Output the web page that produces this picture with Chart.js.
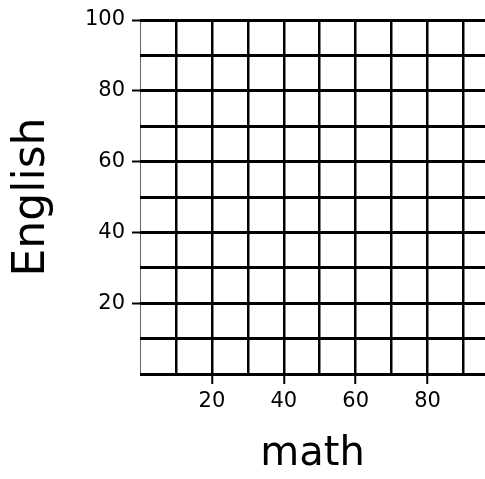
<!DOCTYPE html>
<html>
<head>
<meta charset="utf-8">
<script src="https://cdn.jsdelivr.net/npm/chart.js@4"></script>
<style>
  html, body { margin: 0; padding: 0; background: #fff; }
  #wrap { width: 485px; height: 479px; }
</style>
</head>
<body>
<div id="wrap"><canvas id="gridChart"></canvas></div>
<script>
// Datos (la hoja está vacía: no hay puntos)
const mathScores = [];
const englishScores = [];
const xRange = [0, 96];
const yRange = [0, 100];
const gridStep = 10;
const labelStep = 20;

const points = mathScores.map((m, i) => ({ x: m, y: englishScores[i] }));

const inkFont = "'DejaVu Sans', sans-serif";

// solo se rotulan los múltiplos de 20, pero la cuadrícula va de 10 en 10
const labelEvery = (v) => (v > 0 && v % labelStep === 0) ? String(v) : '';
const tickInk = (ctx) => (ctx.tick && ctx.tick.value > 0 && ctx.tick.value % labelStep === 0) ? '#000' : 'rgba(0,0,0,0)';

const gridChart = new Chart(document.getElementById('gridChart'), {
    type: 'scatter',
    data: {
        datasets: [{
            label: 'alumnos',
            data: points,
            backgroundColor: '#000',
            pointRadius: 3
        }]
    },
    options: {
        responsive: true,
        maintainAspectRatio: false,
        animation: false,
        layout: { padding: { top: 20, right: 0, bottom: 0, left: 0 } },
        plugins: {
            legend: { display: false },
            tooltip: { enabled: false }
        },
        scales: {
            x: {
                type: 'linear',
                min: xRange[0],
                max: xRange[1],
                afterFit: (scale) => { scale.height = 105; },
                ticks: {
                    stepSize: gridStep,
                    includeBounds: false,
                    autoSkip: false,
                    maxRotation: 0,
                    padding: 5,
                    color: '#000',
                    font: { family: inkFont, size: 21 },
                    callback: labelEvery
                },
                grid: {
                    color: (ctx) => ctx.tick && ctx.tick.value === 0 ? '#666' : '#000',
                    lineWidth: (ctx) => ctx.tick && ctx.tick.value === 0 ? 1 : 2.5,
                    tickLength: 10,
                    tickColor: tickInk,
                    tickWidth: 2
                },
                border: { display: false },
                title: {
                    display: true,
                    text: 'math',
                    color: '#000',
                    font: { family: inkFont, size: 40 },
                    padding: { top: 6, bottom: 0 }
                }
            },
            y: {
                min: yRange[0],
                max: yRange[1],
                afterFit: (scale) => { scale.width = 140; },
                ticks: {
                    stepSize: gridStep,
                    autoSkip: false,
                    padding: 7,
                    color: '#000',
                    font: { family: inkFont, size: 21 },
                    callback: labelEvery
                },
                grid: {
                    color: '#000',
                    lineWidth: 3,
                    tickLength: 8,
                    tickColor: tickInk,
                    tickWidth: 2
                },
                border: { display: false },
                title: {
                    display: true,
                    text: 'English',
                    color: '#000',
                    font: { family: inkFont, size: 44 },
                    padding: { top: 6, bottom: 0 }
                }
            }
        }
    }
});
</script>
</body>
</html>
